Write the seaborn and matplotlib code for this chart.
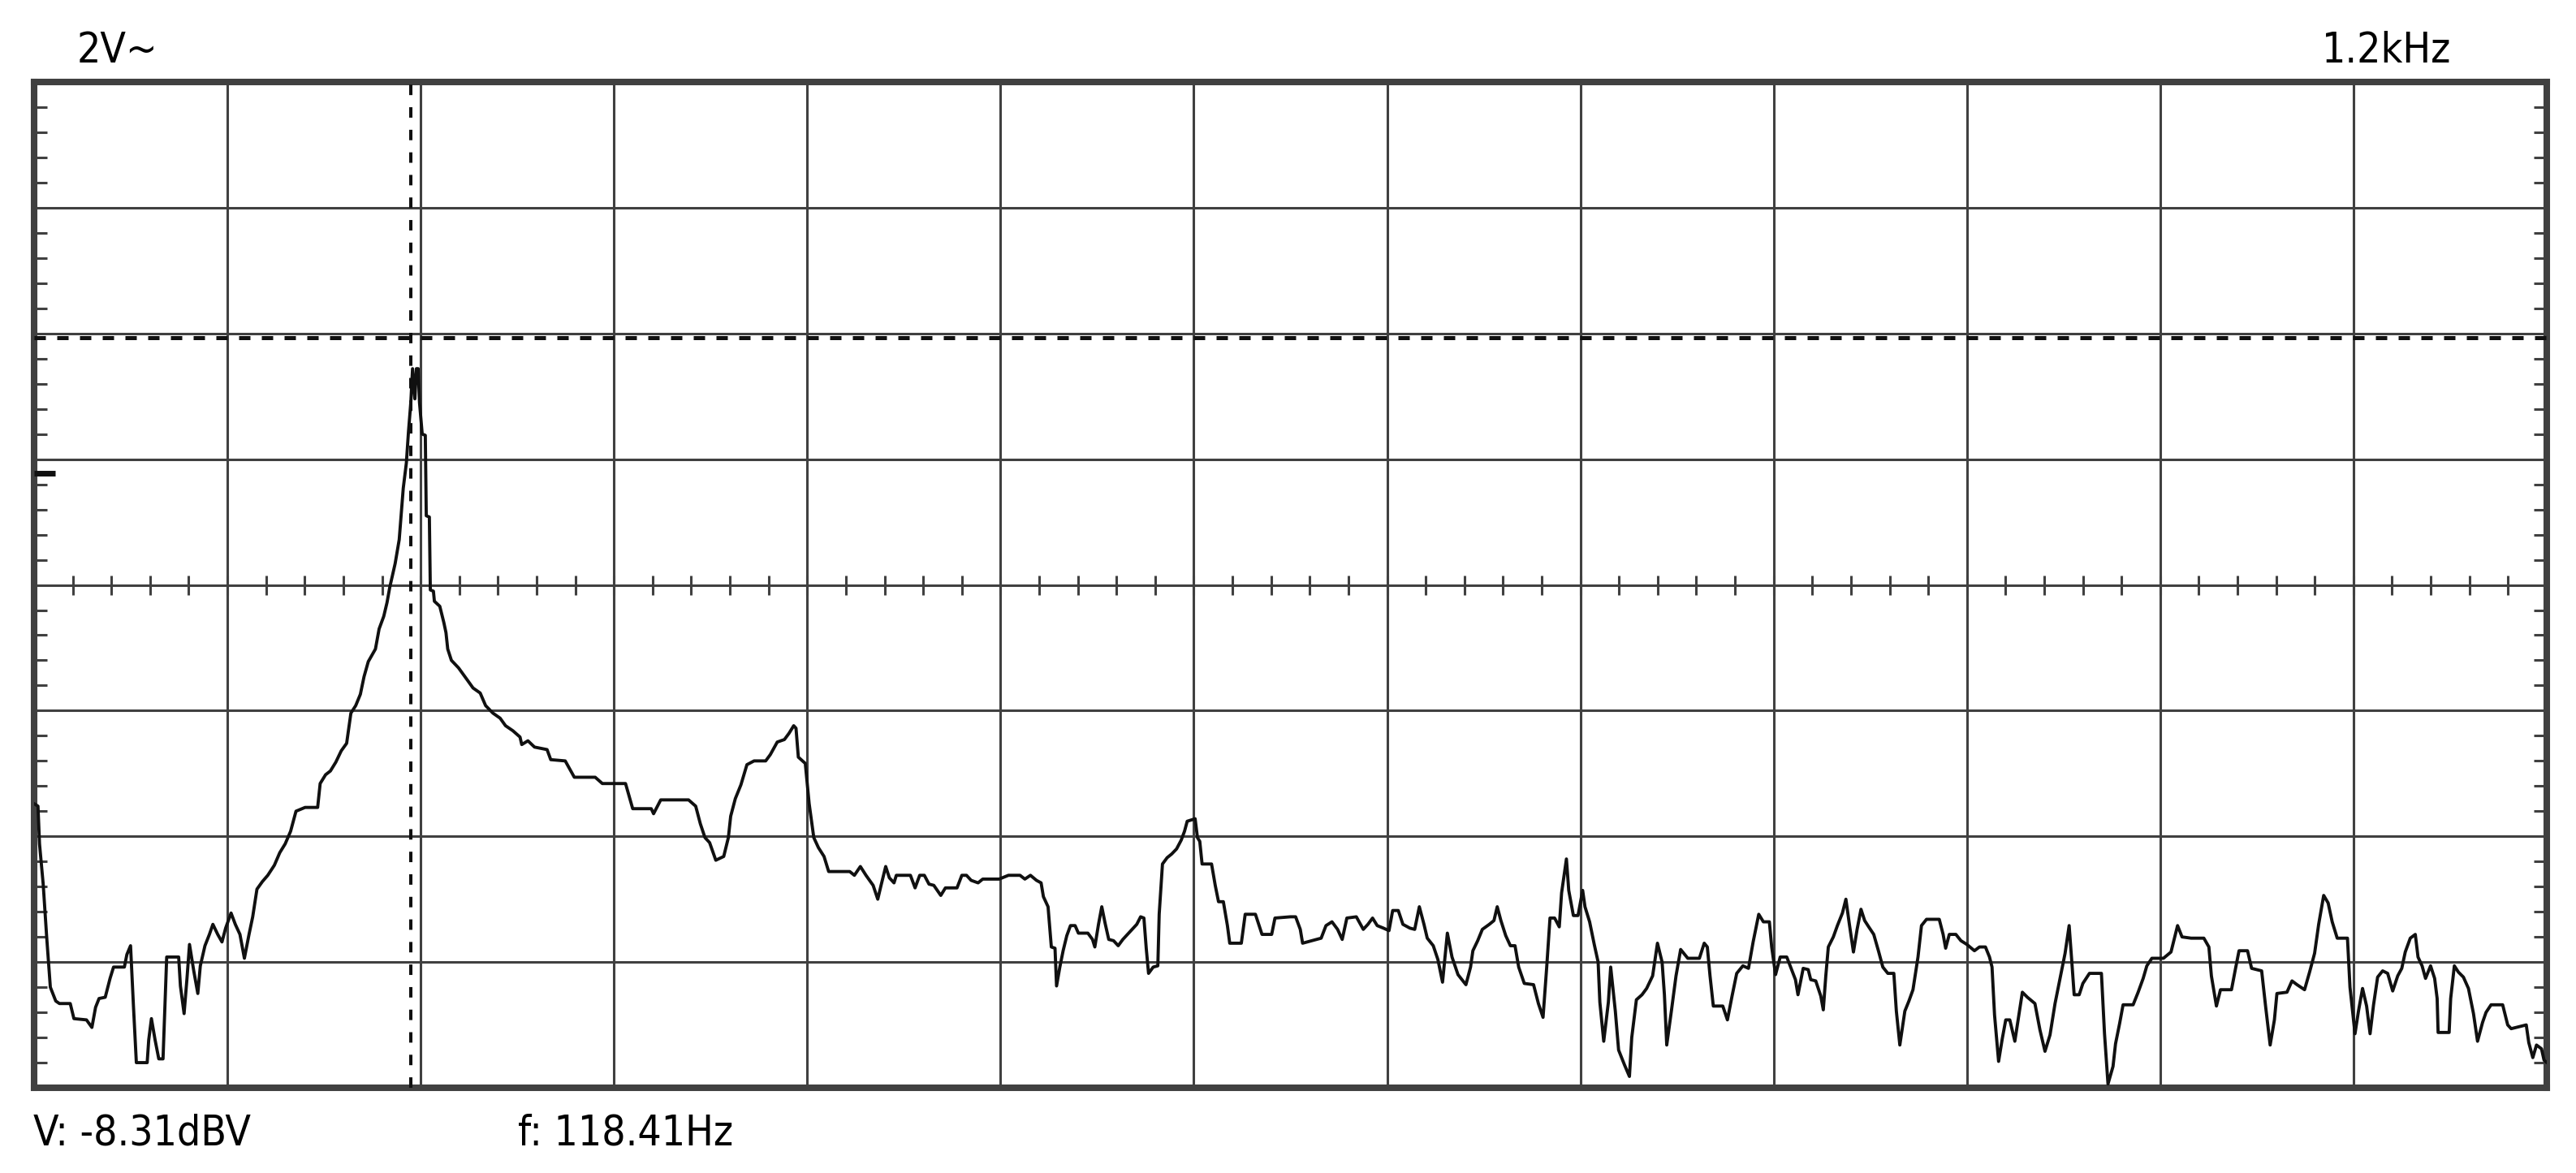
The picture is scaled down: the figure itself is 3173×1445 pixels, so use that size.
import numpy as np
import pandas as pd
import seaborn as sns
import matplotlib.pyplot as plt
from matplotlib import font_manager

# spectrum trace, in screen divisions (x: 0..13, y: 0..8 from bottom)
freq_div = [
    0.000, 0.020, 0.028, 0.047, 0.065, 0.084, 0.112, 0.131, 0.187, 0.206,
    0.271, 0.299, 0.318, 0.336, 0.368, 0.393, 0.411, 0.467, 0.480, 0.499,
    0.514, 0.529, 0.585, 0.593, 0.607, 0.626, 0.645, 0.667, 0.677, 0.686,
    0.748, 0.757, 0.776, 0.791, 0.804, 0.826, 0.847, 0.860, 0.884, 0.907,
    0.925, 0.950, 0.972, 0.991, 1.019, 1.041, 1.065, 1.088, 1.112, 1.131,
    1.153, 1.181, 1.209, 1.243, 1.271, 1.299, 1.327, 1.355, 1.402, 1.467,
    1.480, 1.508, 1.533, 1.561, 1.589, 1.617, 1.639, 1.664, 1.688, 1.707,
    1.729, 1.766, 1.785, 1.809, 1.826, 1.840, 1.868, 1.889, 1.910, 1.926,
    1.937, 1.949, 1.958, 1.970, 1.978, 1.987, 1.994, 2.008, 2.024, 2.029,
    2.045, 2.050, 2.066, 2.071, 2.099, 2.120, 2.131, 2.140, 2.159, 2.196,
    2.215, 2.243, 2.271, 2.308, 2.336, 2.374, 2.411, 2.439, 2.477, 2.514,
    2.523, 2.555, 2.589, 2.654, 2.673, 2.748, 2.795, 2.903, 2.940, 3.060,
    3.097, 3.193, 3.205, 3.242, 3.386, 3.423, 3.447, 3.471, 3.495, 3.527,
    3.568, 3.592, 3.604, 3.628, 3.657, 3.688, 3.725, 3.785, 3.809, 3.845,
    3.882, 3.906, 3.930, 3.942, 3.954, 3.990, 4.010, 4.034, 4.058, 4.087,
    4.111, 4.220, 4.244, 4.275, 4.304, 4.341, 4.365, 4.382, 4.406, 4.425,
    4.449, 4.461, 4.534, 4.558, 4.582, 4.606, 4.630, 4.655, 4.691, 4.715,
    4.775, 4.800, 4.824, 4.848, 4.884, 4.908, 4.993, 5.041, 5.101, 5.126,
    5.155, 5.186, 5.210, 5.222, 5.246, 5.263, 5.282, 5.290, 5.307, 5.324,
    5.343, 5.362, 5.386, 5.403, 5.452, 5.476, 5.488, 5.507, 5.524, 5.541,
    5.560, 5.585, 5.609, 5.633, 5.657, 5.681, 5.705, 5.725, 5.742, 5.754,
    5.766, 5.790, 5.814, 5.821, 5.838, 5.862, 5.886, 5.911, 5.935, 5.952,
    5.966, 6.007, 6.019, 6.031, 6.043, 6.092, 6.111, 6.128, 6.153, 6.174,
    6.186, 6.246, 6.266, 6.319, 6.353, 6.403, 6.420, 6.500, 6.527, 6.551,
    6.563, 6.659, 6.684, 6.715, 6.744, 6.768, 6.792, 6.841, 6.877, 6.901,
    6.925, 6.949, 6.981, 7.010, 7.029, 7.058, 7.082, 7.118, 7.143, 7.155,
    7.167, 7.191, 7.208, 7.239, 7.263, 7.287, 7.312, 7.336, 7.367, 7.408,
    7.432, 7.444, 7.469, 7.493, 7.529, 7.553, 7.570, 7.589, 7.614, 7.638,
    7.662, 7.681, 7.710, 7.758, 7.783, 7.807, 7.826, 7.843, 7.867, 7.891,
    7.903, 7.928, 7.940, 7.964, 7.988, 8.012, 8.024, 8.048, 8.072, 8.092,
    8.101, 8.121, 8.145, 8.157, 8.181, 8.198, 8.229, 8.254, 8.266, 8.290,
    8.319, 8.343, 8.374, 8.399, 8.423, 8.435, 8.447, 8.471, 8.495, 8.519,
    8.556, 8.616, 8.641, 8.657, 8.671, 8.688, 8.737, 8.761, 8.785, 8.809,
    8.841, 8.870, 8.894, 8.923, 8.947, 8.978, 8.990, 9.010, 9.034, 9.068,
    9.113, 9.126, 9.153, 9.179, 9.192, 9.218, 9.244, 9.257, 9.270, 9.283,
    9.309, 9.330, 9.356, 9.374, 9.392, 9.413, 9.432, 9.452, 9.471, 9.492,
    9.518, 9.544, 9.565, 9.591, 9.622, 9.635, 9.653, 9.679, 9.700, 9.721,
    9.747, 9.765, 9.791, 9.857, 9.877, 9.890, 9.909, 9.943, 9.969, 10.000,
    10.039, 10.065, 10.096, 10.117, 10.130, 10.143, 10.164, 10.183, 10.201, 10.222,
    10.248, 10.269, 10.287, 10.313, 10.352, 10.378, 10.404, 10.430, 10.456, 10.482,
    10.508, 10.529, 10.542, 10.555, 10.581, 10.600, 10.634, 10.696, 10.712, 10.730,
    10.756, 10.769, 10.790, 10.808, 10.860, 10.886, 10.912, 10.931, 10.957, 11.017,
    11.056, 11.077, 11.090, 11.113, 11.160, 11.226, 11.252, 11.265, 11.291, 11.312,
    11.369, 11.390, 11.408, 11.452, 11.473, 11.525, 11.546, 11.569, 11.591, 11.604,
    11.656, 11.682, 11.708, 11.747, 11.773, 11.799, 11.820, 11.846, 11.869, 11.890,
    11.916, 11.969, 11.982, 12.008, 12.026, 12.047, 12.068, 12.086, 12.104, 12.125,
    12.151, 12.177, 12.203, 12.229, 12.250, 12.268, 12.294, 12.320, 12.334, 12.355,
    12.373, 12.399, 12.420, 12.433, 12.438, 12.495, 12.503, 12.522, 12.543, 12.569,
    12.595, 12.621, 12.642, 12.668, 12.686, 12.712, 12.772, 12.798, 12.816, 12.894,
    12.907, 12.928, 12.947, 12.973, 12.986, 13.000,
]
level_div = [
    2.26, 2.24, 1.94, 1.62, 1.20, 0.80, 0.69, 0.67, 0.67, 0.55,
    0.54, 0.48, 0.64, 0.71, 0.72, 0.87, 0.96, 0.96, 1.06, 1.13,
    0.65, 0.20, 0.20, 0.38, 0.55, 0.38, 0.23, 0.23, 0.65, 1.04,
    1.04, 0.81, 0.59, 0.87, 1.14, 0.93, 0.75, 0.97, 1.13, 1.22,
    1.30, 1.22, 1.16, 1.27, 1.39, 1.30, 1.22, 1.03, 1.22, 1.36,
    1.58, 1.64, 1.69, 1.77, 1.87, 1.94, 2.04, 2.20, 2.23, 2.23,
    2.42, 2.49, 2.52, 2.59, 2.68, 2.74, 2.98, 3.04, 3.13, 3.27,
    3.39, 3.49, 3.65, 3.75, 3.86, 3.98, 4.17, 4.36, 4.77, 4.97,
    5.22, 5.45, 5.72, 5.48, 5.72, 5.72, 5.45, 5.20, 5.19, 4.55,
    4.54, 3.96, 3.95, 3.87, 3.83, 3.70, 3.62, 3.49, 3.40, 3.34,
    3.30, 3.24, 3.18, 3.14, 3.04, 2.98, 2.94, 2.88, 2.84, 2.79,
    2.73, 2.76, 2.71, 2.69, 2.61, 2.60, 2.47, 2.47, 2.42, 2.42,
    2.22, 2.22, 2.18, 2.29, 2.29, 2.24, 2.10, 1.99, 1.95, 1.81,
    1.84, 1.99, 2.16, 2.30, 2.41, 2.57, 2.60, 2.60, 2.65, 2.75,
    2.77, 2.82, 2.88, 2.86, 2.63, 2.58, 2.26, 1.99, 1.91, 1.84,
    1.72, 1.72, 1.69, 1.76, 1.69, 1.61, 1.50, 1.61, 1.76, 1.67,
    1.63, 1.69, 1.69, 1.59, 1.69, 1.69, 1.62, 1.61, 1.53, 1.59,
    1.59, 1.69, 1.69, 1.65, 1.63, 1.66, 1.66, 1.69, 1.69, 1.66,
    1.69, 1.65, 1.63, 1.52, 1.44, 1.12, 1.11, 0.81, 0.96, 1.09,
    1.21, 1.29, 1.29, 1.23, 1.23, 1.18, 1.12, 1.30, 1.44, 1.31,
    1.18, 1.17, 1.13, 1.18, 1.22, 1.26, 1.30, 1.36, 1.35, 1.11,
    0.91, 0.96, 0.97, 1.38, 1.78, 1.83, 1.86, 1.90, 1.97, 2.04,
    2.12, 2.14, 1.99, 1.96, 1.78, 1.78, 1.61, 1.48, 1.48, 1.29,
    1.15, 1.15, 1.38, 1.38, 1.22, 1.22, 1.35, 1.36, 1.36, 1.26,
    1.15, 1.19, 1.29, 1.32, 1.26, 1.18, 1.35, 1.36, 1.26, 1.30,
    1.35, 1.29, 1.27, 1.25, 1.41, 1.41, 1.30, 1.27, 1.26, 1.35,
    1.44, 1.30, 1.19, 1.13, 1.02, 0.84, 1.23, 1.04, 0.90, 0.82,
    0.96, 1.09, 1.17, 1.26, 1.30, 1.33, 1.44, 1.33, 1.21, 1.13,
    1.13, 0.96, 0.83, 0.82, 0.67, 0.56, 0.96, 1.35, 1.35, 1.28,
    1.55, 1.82, 1.57, 1.37, 1.37, 1.57, 1.44, 1.32, 1.14, 1.00,
    0.68, 0.37, 0.68, 0.96, 0.61, 0.30, 0.18, 0.09, 0.40, 0.70,
    0.74, 0.79, 0.89, 1.15, 1.00, 0.74, 0.34, 0.61, 0.89, 1.10,
    1.03, 1.03, 1.15, 1.12, 0.89, 0.65, 0.65, 0.54, 0.73, 0.91,
    0.97, 0.95, 1.16, 1.38, 1.32, 1.32, 1.12, 0.90, 1.04, 1.04,
    0.86, 0.74, 0.95, 0.94, 0.86, 0.85, 0.73, 0.62, 0.89, 1.12,
    1.20, 1.29, 1.39, 1.50, 1.30, 1.08, 1.26, 1.42, 1.33, 1.28,
    1.22, 1.08, 0.96, 0.91, 0.91, 0.61, 0.34, 0.61, 0.69, 0.78,
    1.04, 1.29, 1.34, 1.34, 1.22, 1.11, 1.22, 1.22, 1.17, 1.14,
    1.09, 1.12, 1.12, 1.04, 0.96, 0.58, 0.21, 0.39, 0.54, 0.54,
    0.37, 0.58, 0.76, 0.72, 0.67, 0.46, 0.29, 0.42, 0.67, 0.87,
    1.07, 1.29, 1.02, 0.74, 0.74, 0.83, 0.91, 0.91, 0.43, 0.03,
    0.17, 0.35, 0.51, 0.66, 0.66, 0.76, 0.87, 0.97, 1.03, 1.03,
    1.08, 1.21, 1.29, 1.20, 1.19, 1.19, 1.12, 0.89, 0.65, 0.78,
    0.78, 0.95, 1.09, 1.09, 0.95, 0.93, 0.64, 0.34, 0.54, 0.75,
    0.76, 0.85, 0.82, 0.78, 0.92, 1.07, 1.30, 1.53, 1.47, 1.32,
    1.19, 1.19, 0.80, 0.43, 0.61, 0.79, 0.65, 0.43, 0.66, 0.88,
    0.93, 0.91, 0.77, 0.89, 0.95, 1.08, 1.19, 1.22, 1.04, 0.97,
    0.87, 0.97, 0.87, 0.71, 0.44, 0.44, 0.71, 0.97, 0.92, 0.88,
    0.79, 0.59, 0.37, 0.52, 0.60, 0.66, 0.66, 0.50, 0.47, 0.50,
    0.36, 0.24, 0.34, 0.31, 0.22, 0.20,
]

# cursors and readouts
cursor_x = 1.95
ref_level = 5.965
marker_level = 4.89
scale_label = '2V~'
span_label = '1.2kHz'
level_readout = 'V: -8.31dBV'
freq_readout = 'f: 118.41Hz'

n_xdiv = 13
n_ydiv = 8
grid_col = '#404040'
ink = '#101010'

sns.set_style('white')
fams = {f.name for f in font_manager.fontManager.ttflist}
if 'Liberation Sans Narrow' in fams:
    plt.rcParams['font.family'] = ['Liberation Sans Narrow', 'DejaVu Sans']
    txt_size = 21
    txt_stretch = 'normal'
else:
    plt.rcParams['font.family'] = ['DejaVu Sans']
    txt_size = 18.5
    txt_stretch = 'condensed'

trace = pd.DataFrame({'freq': freq_div, 'level': level_div})

fig = plt.figure(figsize=(15.865, 7.225), dpi=200)
ax = fig.add_axes([0.01324, 0.07266, 0.9754, 0.8574])

# screen graticule
ax.set_xlim(0, n_xdiv)
ax.set_ylim(0, n_ydiv)
ax.set_xticks(np.arange(0, n_xdiv + 1))
ax.set_yticks(np.arange(0, n_ydiv + 1))
ax.set_yticks(np.arange(0, n_ydiv + 0.01, 0.2), minor=True)
ax.grid(True, which='major', color=grid_col, lw=1.1, zorder=1)
ax.tick_params(which='major', length=0, labelbottom=False, labelleft=False)
ax.tick_params(axis='y', which='minor', left=True, right=True, direction='in',
               length=5.8, width=1.1, color=grid_col)
for sp in ax.spines.values():
    sp.set_visible(True)
    sp.set_color(grid_col)
    sp.set_linewidth(2.9)
ax.set_axisbelow(True)

# ticks across the centre line
cx = np.arange(0, n_xdiv + 0.01, 0.2)
ax.plot(cx, np.full_like(cx, n_ydiv / 2), ls='none', marker='|', ms=8.3,
        mew=1.1, color=grid_col, zorder=2)

# cursors
ax.axhline(ref_level, color=ink, lw=1.8, dashes=(2.8, 2.8), zorder=3)
ax.axvline(cursor_x, color=ink, lw=1.45, dashes=(3.2, 3.7), zorder=3)
ax.plot([0, 0.11], [marker_level, marker_level], color=ink, lw=2.5,
        solid_capstyle='butt', zorder=3)

# trace
sns.lineplot(data=trace, x='freq', y='level', ax=ax, color=ink, lw=1.4,
             estimator=None, sort=False, zorder=4)
ax.set_xlabel('')
ax.set_ylabel('')

txt_kw = dict(fontsize=txt_size, fontstretch=txt_stretch, color='black',
              va='baseline', ha='left')
fig.text(0.0299, 0.9467, scale_label, **txt_kw)
fig.text(0.9014, 0.9467, span_label, **txt_kw)
fig.text(0.0129, 0.0242, level_readout, **txt_kw)
fig.text(0.2011, 0.0242, freq_readout, **txt_kw)

fig.savefig('out.png', dpi=200, facecolor='white')
